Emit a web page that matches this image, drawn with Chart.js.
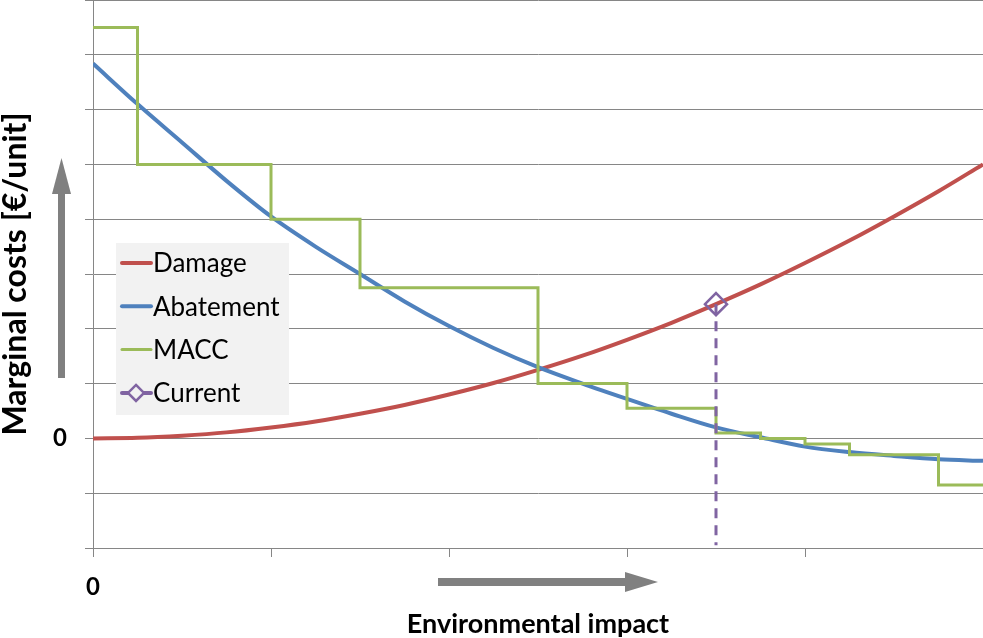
<!DOCTYPE html>
<html>
<head>
<meta charset="utf-8">
<script src="https://cdn.jsdelivr.net/npm/chart.js@4"></script>
<style>
  html, body { margin: 0; padding: 0; background: #fff; }
  #wrap { width: 983px; height: 638px; position: relative; }
</style>
</head>
<body>
<div id="wrap"><canvas id="chart"></canvas></div>
<script>
// Sample positions along the environmental impact axis
const curveX = [0, 0.5, 1, 1.5, 2, 2.5, 3, 3.5, 4, 4.5, 5, 5.5, 6, 6.5, 7, 7.5, 8, 8.5, 9, 9.5, 10];
// Marginal damage (rising) and marginal abatement (falling) curves
const damage = [0, 0.01, 0.05, 0.11, 0.2, 0.31, 0.45, 0.61, 0.8, 1.01, 1.25, 1.51, 1.8, 2.11, 2.45, 2.81, 3.2, 3.61, 4.05, 4.51, 5.0];
const abatement = [6.84, 6.1, 5.4, 4.7, 4.05, 3.5, 3.0, 2.5, 2.05, 1.65, 1.3, 1.0, 0.72, 0.45, 0.2, 0.02, -0.15, -0.25, -0.32, -0.38, -0.41];

// MACC steps: each value holds from its x until the next x
const maccX = [0, 0.5, 2, 3, 5, 6, 7, 7.5, 8, 8.5, 9.5, 10];
const maccY = [7.5, 5, 4, 2.75, 1, 0.55, 0.1, 0, -0.1, -0.3, -0.85, -0.85];

// Current situation marker with drop line to the axis
const currentX = [7, 7];
const currentY = [2.45, -1.95];

const seriesNames = ['Damage', 'Abatement', 'MACC', 'Current'];
const FONT = 'Lato, "Open Sans", sans-serif';

function pts(xs, ys) {
  return xs.map((x, i) => ({ x: x, y: ys[i] }));
}

// legend box drawn inside the plot, Excel style
const legendBox = {
  id: 'legendBox',
  afterDraw(chart) {
    const ctx = chart.ctx;
    const x0 = 116, y0 = 243, w = 173, h = 172;
    ctx.save();
    ctx.fillStyle = '#f2f2f2';
    ctx.fillRect(x0, y0, w, h);
    ctx.font = '26px ' + FONT;
    ctx.textBaseline = 'middle';
    chart.data.datasets.forEach((ds, i) => {
      const cy = y0 + 20 + i * 43.3;
      ctx.strokeStyle = ds.borderColor;
      ctx.lineWidth = i === 2 ? 3 : 4;
      ctx.lineCap = 'round';
      ctx.setLineDash([]);
      ctx.beginPath();
      ctx.moveTo(x0 + 6, cy);
      ctx.lineTo(x0 + 35, cy);
      ctx.stroke();
      if (i === 3) {
        ctx.lineWidth = 2.5;
        ctx.fillStyle = '#f2f2f2';
        ctx.beginPath();
        ctx.moveTo(x0 + 20, cy - 8);
        ctx.lineTo(x0 + 28, cy);
        ctx.lineTo(x0 + 20, cy + 8);
        ctx.lineTo(x0 + 12, cy);
        ctx.closePath();
        ctx.fill();
        ctx.stroke();
      }
      ctx.fillStyle = '#000';
      ctx.fillText(ds.label, x0 + 37, cy + 1);
    });
    ctx.restore();
  }
};

// grey direction arrows next to the axes
const axisArrows = {
  id: 'axisArrows',
  afterDraw(chart) {
    const ctx = chart.ctx;
    ctx.save();
    ctx.fillStyle = '#808080';
    // vertical arrow
    ctx.fillRect(58, 193, 7, 185);
    ctx.beginPath();
    ctx.moveTo(52, 194);
    ctx.lineTo(61.5, 158);
    ctx.lineTo(71, 194);
    ctx.closePath();
    ctx.fill();
    // horizontal arrow
    ctx.fillRect(438, 578, 188, 8);
    ctx.beginPath();
    ctx.moveTo(625, 572);
    ctx.lineTo(658, 582);
    ctx.lineTo(625, 592);
    ctx.closePath();
    ctx.fill();
    ctx.restore();
  }
};

const zeroOnly = v => (v === 0 ? '0' : '');
const tickFont = c => (c.tick && c.tick.value === 0
  ? { family: FONT, size: 24, weight: 'bold' }
  : { family: FONT, size: 1 });

new Chart(document.getElementById('chart'), {
  type: 'line',
  data: {
    datasets: [{
      label: seriesNames[0],
      data: pts(curveX, damage),
      borderColor: '#c0504d',
      borderWidth: 4,
      cubicInterpolationMode: 'monotone',
      pointRadius: 0,
      order: 4
    }, {
      label: seriesNames[1],
      data: pts(curveX, abatement),
      borderColor: '#4f81bd',
      borderWidth: 4,
      cubicInterpolationMode: 'monotone',
      pointRadius: 0,
      order: 3
    }, {
      label: seriesNames[2],
      data: pts(maccX, maccY),
      borderColor: '#9bbb59',
      borderWidth: 3,
      stepped: 'before',
      pointRadius: 0,
      order: 2
    }, {
      label: seriesNames[3],
      data: pts(currentX, currentY),
      borderColor: '#8064a2',
      borderWidth: 3,
      borderDash: [10, 7],
      pointStyle: 'rectRot',
      pointRadius: [11, 0],
      pointBorderWidth: 2.5,
      pointBorderColor: '#8064a2',
      pointBackgroundColor: 'rgba(0,0,0,0)',
      order: 1
    }]
  },
  options: {
    responsive: true,
    maintainAspectRatio: false,
    animation: false,
    layout: { padding: 0, autoPadding: false },
    plugins: {
      legend: { display: false },
      tooltip: { enabled: false }
    },
    scales: {
      x: {
        type: 'linear',
        min: 0,
        max: 10,
        ticks: { stepSize: 2, callback: zeroOnly, font: tickFont, color: '#000', padding: 16, maxRotation: 0 },
        grid: { drawOnChartArea: false, drawTicks: true, tickLength: 9, color: '#868686' },
        border: { color: '#868686' },
        title: { display: true, text: 'Environmental impact', color: '#000', font: { family: FONT, size: 27, weight: 'bold', lineHeight: 1 }, padding: 0 },
        afterFit(s) { s.height = 90; s.paddingLeft = 0; s.paddingRight = 0; }
      },
      y: {
        min: -2,
        max: 8,
        ticks: { stepSize: 1, callback: zeroOnly, font: tickFont, color: '#000', padding: 18 },
        grid: { drawTicks: true, tickLength: 8, color: '#868686' },
        border: { color: '#868686' },
        title: { display: true, text: 'Marginal costs [€/unit]', color: '#000', font: { family: FONT, size: 32, weight: 'bold', lineHeight: 1 }, padding: 0 },
        afterFit(s) { s.width = 93; s.paddingTop = 0; s.paddingBottom = 0; }
      }
    }
  },
  plugins: [legendBox, axisArrows]
});
</script>
</body>
</html>
